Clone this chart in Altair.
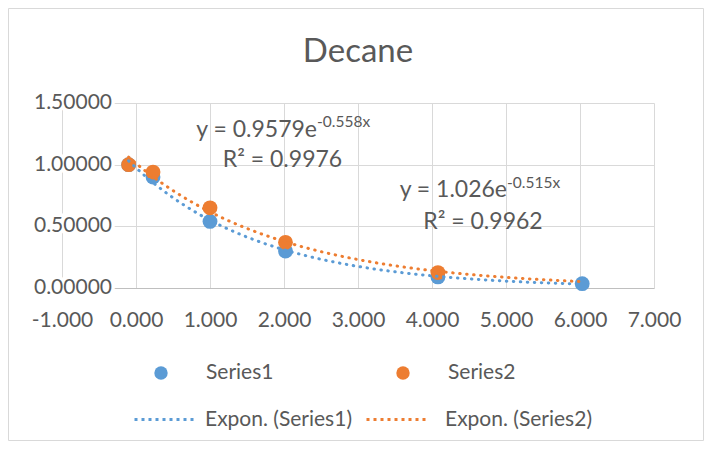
import altair as alt
import pandas as pd

# ---- data ----
x_series1 = [-0.1, 0.23, 1.0, 2.02, 4.08, 6.03]
y_series1 = [1.0, 0.90, 0.54, 0.30, 0.09, 0.035]
x_series2 = [-0.1, 0.23, 1.0, 2.02, 4.08]
y_series2 = [1.0, 0.94, 0.65, 0.37, 0.125]
trend_extent1 = [-0.1, 6.03]
trend_extent2 = [-0.1, 6.0]
x_ticks = [-1, 0, 1, 2, 3, 4, 5, 6, 7]
y_ticks = [0.0, 0.5, 1.0, 1.5]
title_text = "Decane"
eq1_main, eq1_sup, eq1_r2 = "y = 0.9579e", "-0.558x", "R² = 0.9976"
eq2_main, eq2_sup, eq2_r2 = "y = 1.026e", "-0.515x", "R² = 0.9962"

BLUE = "#5B9BD5"
ORANGE = "#ED7D31"
TXT = "#595959"
GRID = "#d9d9d9"
FONT = "Lato"

W, H = 592, 185
PAD = {"left": 54, "top": 95, "right": 50, "bottom": 153}

df = pd.DataFrame(
    [{"series": "Series1", "x": a, "y": b} for a, b in zip(x_series1, y_series1)]
    + [{"series": "Series2", "x": a, "y": b} for a, b in zip(x_series2, y_series2)]
)
ticks_df = pd.DataFrame({"v": y_ticks})

xscale = alt.Scale(domain=[-1, 7], nice=False, zero=False)
yscale = alt.Scale(domain=[0, 1.5], nice=False)

X = alt.X(
    "x:Q",
    scale=xscale,
    axis=alt.Axis(
        values=x_ticks, format=".3f", grid=True, gridColor=GRID, gridWidth=1,
        domain=False, ticks=False, labelFont=FONT, labelFontSize=21,
        labelColor=TXT, labelPadding=21, title=None, labelFlush=False,
        labelExpr="replace(datum.label, '\u2212', '-')",
    ),
)
Y = alt.Y(
    "y:Q",
    scale=yscale,
    axis=alt.Axis(
        values=y_ticks, grid=True, labels=False, domain=False, ticks=False,
        gridWidth=1,
        gridColor={"condition": {"test": "datum.value === 0", "value": "#bfbfbf"}, "value": GRID},
        title=None,
    ),
)


def legend(x, y, offset, stroke=False):
    kw = dict(
        orient="none", legendX=x, legendY=y, title=None, padding=0,
        labelFont=FONT, labelFontSize=21, labelColor=TXT, labelOffset=offset,
    )
    if stroke:
        kw.update(symbolType="stroke", symbolSize=3600, symbolStrokeWidth=3,
                  symbolDash=[3, 4])
    else:
        kw.update(symbolType="circle", symbolSize=180)
    return alt.Legend(**kw)


base = alt.Chart(df)

border = alt.Chart(alt.Data(values=[{}])).mark_rect(
    filled=False, stroke=GRID, strokeWidth=1
).encode(
    x=alt.value(-53.5), x2=alt.value(641.5), y=alt.value(-94.5), y2=alt.value(337.5)
)

ylab_halo = alt.Chart(ticks_df).mark_text(
    font=FONT, fontSize=21, align="right", baseline="middle",
    stroke="white", strokeWidth=7, fill="white",
).encode(x=alt.value(50), y=alt.Y("v:Q", scale=yscale), text=alt.Text("v:Q", format=".5f"))

ylab = alt.Chart(ticks_df).mark_text(
    font=FONT, fontSize=21, align="right", baseline="middle", color=TXT,
).encode(x=alt.value(50), y=alt.Y("v:Q", scale=yscale), text=alt.Text("v:Q", format=".5f"))

pts1 = base.transform_filter("datum.series === 'Series1'").mark_circle(
    size=220, opacity=1
).encode(
    x=X, y=Y,
    color=alt.Color("series:N", scale=alt.Scale(domain=["Series1"], range=[BLUE]),
                    legend=legend(88.5, 259.5, 34.5)),
)
pts2 = base.transform_filter("datum.series === 'Series2'").mark_circle(
    size=220, opacity=1
).encode(
    x=X, y=Y,
    color=alt.Color("series:N", scale=alt.Scale(domain=["Series2"], range=[ORANGE]),
                    legend=legend(330.5, 259.5, 34.5)),
)


def trend(name, extent, color, lx, ly, off):
    label = f"Expon. ({name})"
    return (
        base.transform_filter(f"datum.series === '{name}'")
        .transform_regression("x", "y", method="exp", extent=extent)
        .transform_calculate(lab=f"'{label}'")
        .mark_line(strokeDash=[0.5, 6.5], strokeCap="round", strokeWidth=3)
        .encode(
            x=X, y=Y,
            color=alt.Color("lab:N", scale=alt.Scale(domain=[label], range=[color]),
                            legend=legend(lx, ly, off, stroke=True)),
        )
    )


tr1 = trend("Series1", trend_extent1, BLUE, 71, 285, 9)
tr2 = trend("Series2", trend_extent2, ORANGE, 303, 285, 17)


def txt(s, x, y, size=21, align="left", baseline="middle"):
    return alt.Chart(alt.Data(values=[{}])).mark_text(
        text=s, font=FONT, fontSize=size, color=TXT, align=align, baseline=baseline
    ).encode(x=alt.value(x), y=alt.value(y))


ann = [
    txt(title_text, 296, -41, size=33, align="center", baseline="alphabetic"),
    txt(eq1_main, 255, 27, size=23, align="right"),
    txt(eq1_sup, 255, 19, size=15.5),
    txt(eq1_r2, 220.5, 57, size=23, align="center"),
    txt(eq2_main, 445, 87, size=23, align="right"),
    txt(eq2_sup, 445, 80, size=15.5),
    txt(eq2_r2, 421, 119, size=23, align="center"),
]

chart = (
    alt.layer(border, ylab_halo, ylab, pts1, pts2, tr1, tr2, *ann)
    .resolve_scale(color="independent")
    .properties(
        width=W, height=H,
        autosize=alt.AutoSizeParams(type="none"),
        padding=PAD,
        background="white",
    )
    .configure_view(strokeWidth=0)
)

chart.save("out.html", embed_options={"renderer": "svg", "actions": False})
